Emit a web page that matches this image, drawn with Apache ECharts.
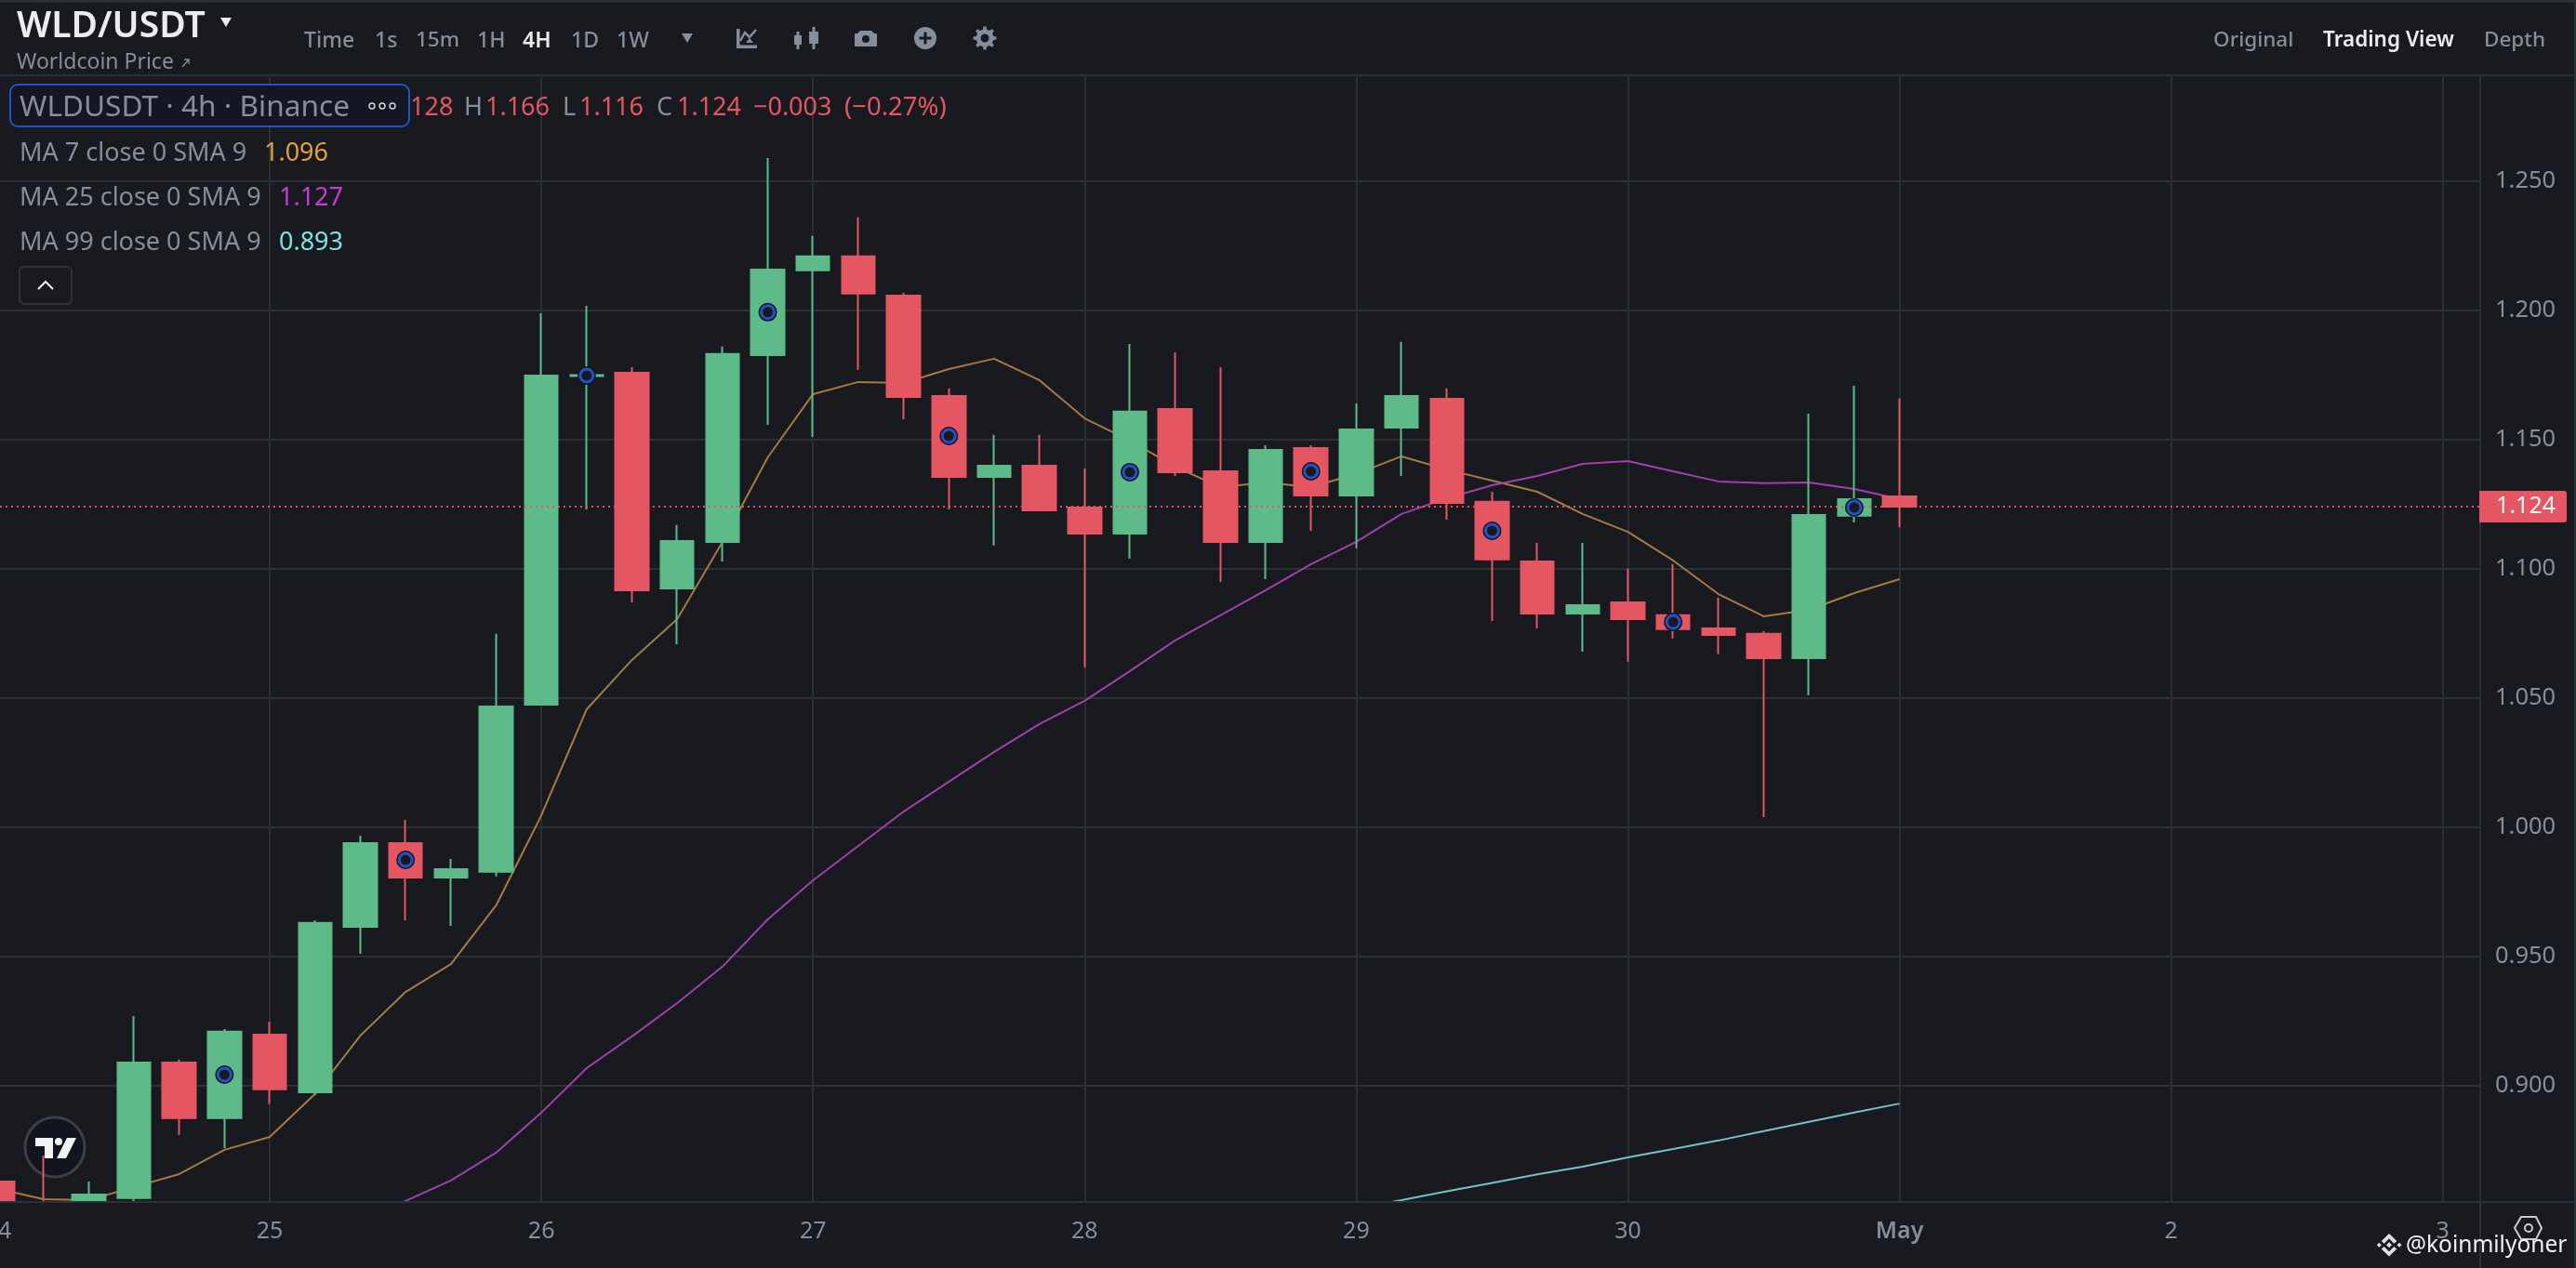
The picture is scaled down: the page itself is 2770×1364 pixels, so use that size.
<!DOCTYPE html>
<html><head><meta charset="utf-8">
<style>html,body{margin:0;padding:0;background:#181a20;overflow:hidden}#c{width:2770px;height:1364px}</style>
<script src="https://cdn.jsdelivr.net/npm/echarts@6/dist/echarts.min.js"></script>
</head><body><div id="c"></div>
<script>
// x = candle index (six 4h candles per day); [open, close, low, high]
const candleIndex = [0,1,2,3,4,5,6,7,8,9,10,11,12,13,14,15,16,17,18,19,20,21,22,23,24,25,26,27,28,29,30,31,32,33,34,35,36,37,38,39,40,41,42];
const opens  = [.8628,.853,.850,.8564,.9089,.8874,.9197,.8974,.9614,.9938,.9805,.9827,1.0474,1.1746,1.1759,1.0924,1.1104,1.1827,1.2155,1.2209,1.2057,1.1669,1.1356,1.1399,1.1237,1.1136,1.1618,1.1377,1.1104,1.1467,1.1284,1.1546,1.1658,1.1259,1.1028,1.0827,1.0870,1.0820,1.0769,1.0748,1.0654,1.1205,1.128];
const closes = [.845,.850,.8578,.9089,.8874,.9208,.8985,.9629,.9938,.9805,.9837,1.0467,1.1748,1.1750,1.0917,1.1107,1.1831,1.2158,1.2209,1.2065,1.1665,1.1356,1.1399,1.1226,1.1136,1.1608,1.1374,1.1104,1.1460,1.1284,1.1539,1.1669,1.1255,1.1036,1.0827,1.0859,1.0805,1.0766,1.0744,1.0654,1.1208,1.1269,1.124];
const lows   = [.84,.84,.85,.8542,.8809,.8758,.8928,.8963,.9510,.9639,.9618,.9809,1.0474,1.1230,1.0870,1.0708,1.1028,1.1557,1.1510,1.1770,1.1579,1.1230,1.1090,1.1226,1.0618,1.1039,1.1359,1.0949,1.0960,1.1147,1.1079,1.1359,1.1190,1.0798,1.0769,1.0679,1.0640,1.0730,1.0669,1.0039,1.0510,1.1179,1.116];
const highs  = [.8628,.8729,.8628,.9269,.9100,.9218,.9247,.9639,.9967,1.0028,.9877,1.0748,1.1989,1.2018,1.1780,1.1169,1.1860,1.2590,1.2288,1.2360,1.2068,1.1698,1.1518,1.1518,1.1388,1.1870,1.1838,1.1780,1.1478,1.1478,1.1640,1.1878,1.1698,1.1298,1.1100,1.1100,1.1000,1.1018,1.0888,1.0758,1.1600,1.1708,1.166];
const ma7  = [.8600,.8560,.8556,.8607,.8657,.8751,.8801,.8967,.9193,.9362,.9470,.9697,1.0046,1.0456,1.0647,1.0805,1.1104,1.1431,1.1676,1.1723,1.1719,1.1773,1.1813,1.1730,1.1582,1.1496,1.1395,1.1316,1.1334,1.1316,1.1367,1.1435,1.1384,1.1341,1.1298,1.1212,1.1143,1.1032,1.0902,1.0816,1.0841,1.0906,1.096];
const ma25Start = 8;
const ma25 = [.8452,.8553,.8632,.8740,.8895,.9067,.9190,.9319,.9460,.9643,.9794,.9927,1.0060,1.0176,1.0291,1.0399,1.0489,1.0604,1.0723,1.0820,1.0917,1.1018,1.1104,1.1212,1.1273,1.1323,1.1359,1.1406,1.1417,1.1377,1.1338,1.1331,1.1334,1.1309,1.127];
const ma99Start = 30;
const ma99 = [.8524,.8556,.8590,.8623,.8656,.8686,.8722,.8754,.8787,.8823,.8859,.8895,.893];
const markerIndex = [5,9,13,17,21,25,29,33,37,41];
const markerPrice = [.9042,.9873,1.1748,1.1993,1.1514,1.1374,1.1377,1.1147,1.0794,1.1237];
const lastPrice = 1.124;
const dayTickIndex = [-6,0,6,12,18,24,30,36,42,48,54];
const dayLabels = ['23','24','25','26','27','28','29','30','May','2','3'];
const yMin = 0.8549, yMax = 1.2910;

const BG='#181a20', GRID='#2a2e35', GRAY='#848e9c', GREEN='#5eba89', RED='#e45662';
const FONT='"Noto Sans"';
const pair=(xs,start)=>xs.map((v,i)=>[i+start,v]);
const rows=candleIndex.map((x,i)=>[x,opens[i],closes[i],lows[i],highs[i]]);
const marks=markerIndex.map((x,i)=>[x,markerPrice[i]]);

function t(text,x,y,size,color,opt={}){
  return {type:'text',z:opt.z||20,x,y,style:{text,fill:color,fontFamily:FONT,fontSize:size,fontWeight:opt.w||400,align:opt.a||'left',verticalAlign:'middle'}};
}
function line(x1,y1,x2,y2,c=GRID,w=2,z=15){return {type:'line',z,shape:{x1,y1,x2,y2},style:{stroke:c,lineWidth:w}};}
function poly(p,c,z=20){return {type:'polygon',z,shape:{points:p},style:{fill:c}};}
function gearPoints(cx,cy,ro,ri,teeth){
  const p=[];for(let k=0;k<teeth;k++){const a=k*2*Math.PI/teeth,s=Math.PI/teeth;
    [[-0.55,ri],[-0.3,ro],[0.3,ro],[0.55,ri]].forEach(([f,r])=>p.push([cx+r*Math.sin(a+f*s),cy-r*Math.cos(a+f*s)]));}
  return p;
}

const graphics=[
  // panel under the plot: hides what falls below the price scale
  {type:'rect',z:10,shape:{x:0,y:1294,width:2667,height:70},style:{fill:BG}},
  // frame
  line(0,1,2770,1,'#2b3139',3),line(2769,0,2769,1364,'#2b3139',2),
  line(0,81,2770,81,'#2b3139',2),line(2667,1293,2770,1293,'#2b3139',2),line(2667,1293,2667,1364,'#2b3139',2),
  // header
  t('WLD/USDT',18,29,39,'#eaecef',{w:600}),
  poly([[237,19],[249,19],[243,29]],'#eaecef'),
  t('Worldcoin Price',18,67,23,GRAY),
  {type:'polyline',z:20,shape:{points:[[196,72],[203,64]]},style:{stroke:GRAY,lineWidth:1.4,fill:null}},
  {type:'polyline',z:20,shape:{points:[[198,64],[203,64],[203,69]]},style:{stroke:GRAY,lineWidth:1.4,fill:null}},
  t('Time',327,44,23,GRAY,{w:500}),t('1s',403,44,23,GRAY,{w:500}),t('15m',447,44,22.5,GRAY,{w:500}),
  t('1H',513,44,23,GRAY,{w:500}),t('4H',562,44,23,'#eaecef',{w:600}),t('1D',614,44,23,GRAY,{w:500}),t('1W',663,44,23,GRAY,{w:500}),
  poly([[733,36],[745,36],[739,46]],GRAY),
  // toolbar icons
  {type:'rect',z:20,shape:{x:792,y:31,width:3.5,height:21},style:{fill:GRAY}},
  {type:'rect',z:20,shape:{x:792,y:48.5,width:22,height:3.5},style:{fill:GRAY}},
  {type:'polyline',z:20,shape:{points:[[796,44],[801,35],[806,40],[813,32]]},style:{stroke:GRAY,lineWidth:2.5,fill:null}},
  poly([[802,46],[806,41],[810,46]],GRAY),
  line(858,34,858,53,GRAY,3,20),{type:'rect',z:20,shape:{x:854,y:38,width:8,height:10},style:{fill:GRAY}},
  line(875,29,875,53,GRAY,3,20),{type:'rect',z:20,shape:{x:870,y:34,width:10,height:13},style:{fill:GRAY}},
  {type:'rect',z:20,shape:{x:919,y:36,width:24,height:14,r:1},style:{fill:GRAY}},
  poly([[921,37],[925,33],[937,33],[941,37]],GRAY),
  {type:'circle',z:21,shape:{cx:931,cy:42,r:4},style:{fill:BG}},
  {type:'circle',z:20,shape:{cx:995,cy:41,r:12},style:{fill:GRAY}},
  {type:'rect',z:21,shape:{x:988.5,y:39.5,width:13,height:3},style:{fill:BG}},
  {type:'rect',z:21,shape:{x:993.5,y:34.5,width:3,height:13},style:{fill:BG}},
  poly(gearPoints(1059,41,12.5,9.5,8),GRAY),
  {type:'circle',z:21,shape:{cx:1059,cy:41,r:4.5},style:{fill:BG}},
  t('Original',2380,44,22.5,GRAY,{w:500}),t('Trading View',2498,44,22.5,'#eaecef',{w:600}),t('Depth',2671,44,22.5,GRAY,{w:500}),
  // legend
  {type:'rect',z:19,shape:{x:11,y:91,width:429,height:45,r:8},style:{fill:'#141722',stroke:'#2450c8',lineWidth:2}},
  t('WLDUSDT · 4h · Binance',21,116,31.6,GRAY),
  {type:'circle',z:20,shape:{cx:400,cy:114,r:3},style:{fill:'none',stroke:'#d5d8dc',lineWidth:1.4}},
  {type:'circle',z:20,shape:{cx:411,cy:114,r:3},style:{fill:'none',stroke:'#d5d8dc',lineWidth:1.4}},
  {type:'circle',z:20,shape:{cx:422,cy:114,r:3},style:{fill:'none',stroke:'#d5d8dc',lineWidth:1.4}},
  t('128',441,116,27,RED),t('H',499,116,27,GRAY),t('1.166',522,116,27,RED),t('L',605,116,27,GRAY),t('1.116',623,116,27,RED),
  t('C',706,116,27,GRAY),t('1.124',728,116,27,RED),t('−0.003',810,116,27,RED),t('(−0.27%)',908,116,27.5,RED),
  t('MA 7 close 0 SMA 9',21,165,27,GRAY),t('1.096',284,165,27,'#e0a040'),
  t('MA 25 close 0 SMA 9',21,213,27,GRAY),t('1.127',300,213,27,'#c93bd8'),
  t('MA 99 close 0 SMA 9',21,261,27,GRAY),t('0.893',300,261,27,'#7fe0e0'),
  {type:'rect',z:19,shape:{x:21,y:287,width:56,height:40,r:5},style:{fill:BG,stroke:'#2f333a',lineWidth:2}},
  {type:'polyline',z:20,shape:{points:[[41,311],[49,303],[57,311]]},style:{stroke:'#eaecef',lineWidth:2,fill:null}},
  // TradingView badge
  {type:'circle',z:0.5,shape:{cx:59,cy:1234,r:32},style:{fill:'#12141f',stroke:'#3d3f46',lineWidth:3}},
  poly([[38,1224],[57,1224],[57,1246],[48,1246],[48,1233],[38,1233]],'#f2f3f4',0.6),
  {type:'circle',z:0.6,shape:{cx:63,cy:1228,r:4},style:{fill:'#f2f3f4'}},
  poly([[72,1224],[82,1224],[71,1246],[61,1246]],'#f2f3f4',0.6),
  // watermark and bottom corner
  {type:'polygon',z:20,shape:{points:[[2711,1309],[2727,1309],[2733,1321],[2727,1333],[2711,1333],[2704,1321]]},style:{fill:'none',stroke:'#c9ccd1',lineWidth:2}},
  {type:'circle',z:20,shape:{cx:2719,cy:1321,r:4},style:{fill:'none',stroke:'#c9ccd1',lineWidth:2}},
  poly([[2569,1327],[2577.3,1335],[2574.3,1337.7],[2569,1332.3],[2563.7,1337.7],[2560.7,1335]],'#e0e0e0',40),
  poly([[2569,1351.6],[2577.3,1343.6],[2574.3,1341],[2569,1346.3],[2563.7,1341],[2560.7,1343.6]],'#e0e0e0',40),
  poly([[2558.3,1336.8],[2560.8,1339.3],[2558.3,1341.8],[2555.8,1339.3]],'#e0e0e0',40),
  poly([[2580,1336.8],[2582.5,1339.3],[2580,1341.8],[2577.5,1339.3]],'#e0e0e0',40),
  poly([[2569,1336.3],[2572,1339.3],[2569,1342.3],[2566,1339.3]],'#e0e0e0',40),
  t('@koinmilyoner',2587,1340,24.5,'#f0f0f0',{z:40})
];

const chart=echarts.init(document.getElementById('c'),null,{renderer:'canvas'});
const xBase={type:'value',min:-6,max:54.827,interval:6,position:'bottom',axisTick:{show:false}};
chart.setOption({
  animation:false,backgroundColor:BG,
  graphic:graphics,
  grid:{left:-294.08,right:103,top:81,bottom:71,containLabel:false,outerBoundsMode:'none'},
  xAxis:[
    Object.assign({},xBase,{axisLine:{show:false},axisLabel:{show:false},
      splitLine:{show:true,lineStyle:{color:GRID,width:2}}}),
    Object.assign({},xBase,{z:30,axisLine:{show:true,onZero:false,lineStyle:{color:'#2b3139',width:2}},splitLine:{show:false},
      axisLabel:{showMaxLabel:false,showMinLabel:false,color:GRAY,fontFamily:FONT,fontSize:25,margin:19,hideOverlap:false,
        formatter:v=>{const k=dayTickIndex.indexOf(v);return k<0?'':(dayLabels[k]==='May'?'{b|May}':dayLabels[k]);},
        rich:{b:{fontFamily:FONT,fontSize:25,fontWeight:600,color:GRAY}}}})
  ],
  yAxis:{type:'value',position:'right',min:yMin,max:yMax,splitNumber:9,
    axisLine:{show:true,lineStyle:{color:'#2b3139',width:2}},axisTick:{show:false},
    splitLine:{show:true,lineStyle:{color:'#2b3136',width:2}},
    axisLabel:{showMinLabel:false,showMaxLabel:false,color:GRAY,fontFamily:FONT,fontSize:25.5,margin:16,padding:[5,0,0,0],formatter:v=>v.toFixed(3)}},
  series:[
    {name:'MA 7',type:'line',z:1,data:pair(ma7,0),showSymbol:false,lineStyle:{color:'#a67a42',width:2}},
    {name:'MA 25',type:'line',z:1,data:pair(ma25,ma25Start),showSymbol:false,lineStyle:{color:'#a13fae',width:2}},
    {name:'MA 99',type:'line',z:1,data:pair(ma99,ma99Start),showSymbol:false,lineStyle:{color:'#75c2c4',width:2}},
    {name:'WLDUSDT',type:'candlestick',z:2,barWidth:36,data:rows,
      itemStyle:{color:GREEN,color0:RED,borderColor:GREEN,borderColor0:RED,borderWidth:2,borderColorDoji:GREEN},
      markLine:{silent:true,symbol:'none',z:3,animation:false,precision:4,
        lineStyle:{color:RED,type:[2,4],width:2},
        label:{show:true,position:'end',distance:-1,formatter:'{v|1.124}',backgroundColor:RED,borderRadius:[0,3,3,0],padding:[0,0,0,0],
          rich:{v:{color:'#f5f5f5',fontFamily:FONT,fontSize:25,width:82,height:34,lineHeight:34,align:'right',padding:[0,12,0,0]}}},
        data:[{yAxis:lastPrice}]}},
    {name:'halo',type:'scatter',z:3,data:marks,symbol:'circle',symbolSize:20,itemStyle:{color:'#14151a',opacity:1}},
    {name:'marker',type:'scatter',z:4,data:marks,symbol:'circle',symbolSize:14,itemStyle:{color:BG,borderColor:'#2450c8',borderWidth:3,opacity:1}}
  ]
});
</script></body></html>
